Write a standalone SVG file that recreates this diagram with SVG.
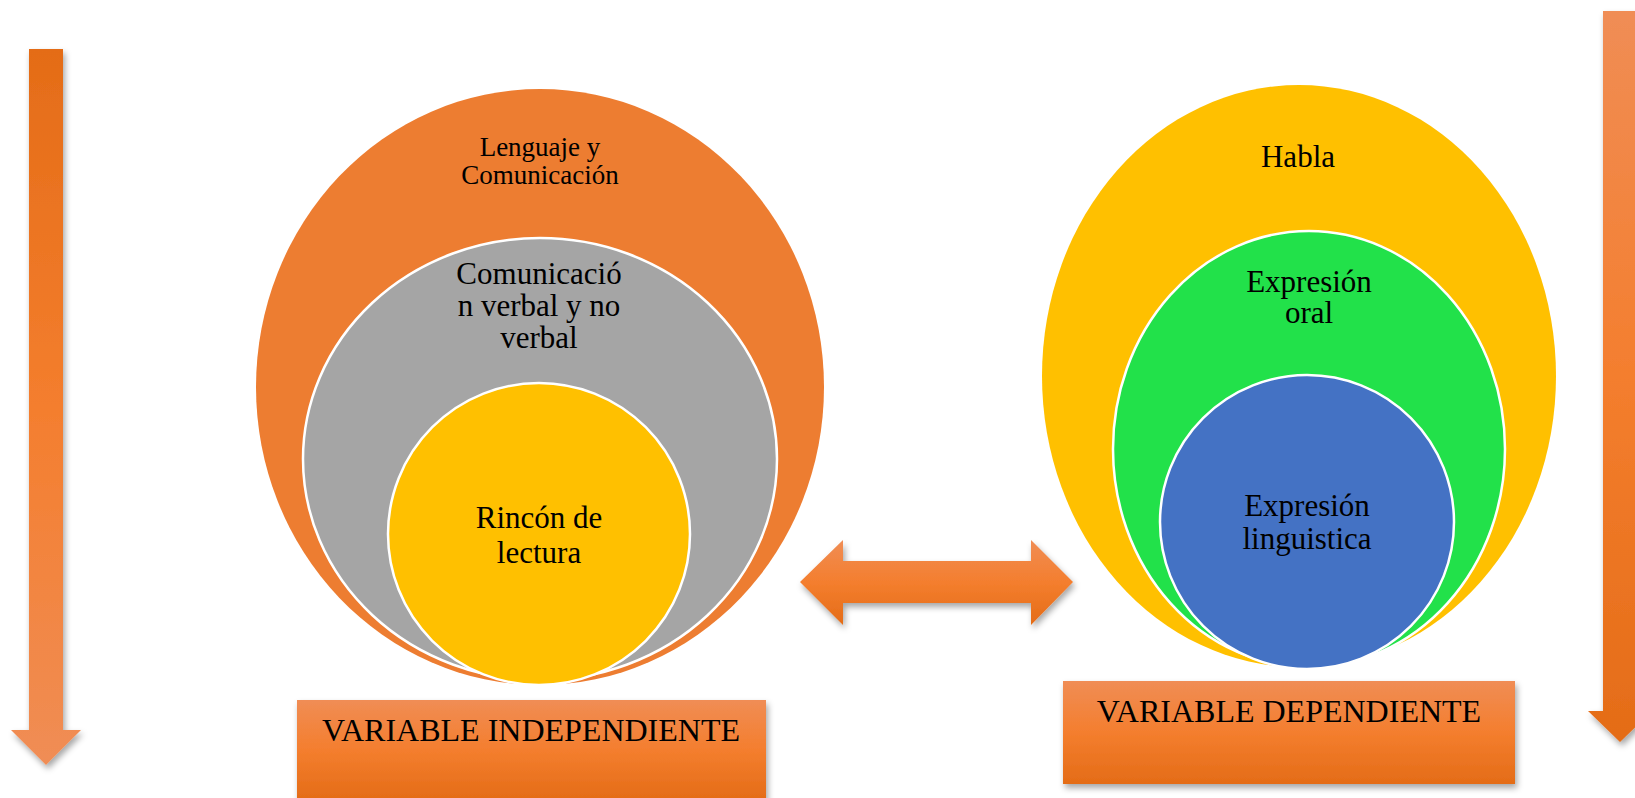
<svg xmlns="http://www.w3.org/2000/svg" width="1635" height="798" viewBox="0 0 1635 798">
<defs>
<linearGradient id="gDown" x1="0" y1="0" x2="0" y2="1">
<stop offset="0" stop-color="#E46C17"/><stop offset="0.5" stop-color="#F47E2E"/><stop offset="1" stop-color="#F08D55"/>
</linearGradient>
<linearGradient id="gUp" x1="0" y1="0" x2="0" y2="1">
<stop offset="0" stop-color="#F08D55"/><stop offset="0.5" stop-color="#F47E2E"/><stop offset="1" stop-color="#E46C17"/>
</linearGradient>
<filter id="sh" x="-20%" y="-20%" width="150%" height="150%">
<feDropShadow dx="2" dy="4" stdDeviation="3" flood-color="#000" flood-opacity="0.35"/>
</filter>
</defs>
<style>
text{font-family:"Liberation Serif","Times New Roman",serif;fill:#000;text-anchor:middle}
.t27{font-size:27px}.t31{font-size:31px}.t32{font-size:32px}
.in{stroke:#fff;stroke-width:2.5}
</style>
<rect width="1635" height="798" fill="#fff"/>

<g id="arrow-left" filter="url(#sh)">
<polygon points="29,49 63,49 63,730 81,730 46,765 11,730 29,730" fill="url(#gDown)"/>
</g>
<g id="arrow-right" filter="url(#sh)">
<polygon points="1603,11 1640,11 1640,711 1652,711 1620,742 1588,711 1603,711" fill="url(#gUp)"/>
</g>

<g id="independiente">
<g id="lenguaje">
<ellipse cx="540" cy="387" rx="284" ry="298" fill="#ED7D31"/>
<text class="t27" x="540" y="156">Lenguaje y</text>
<text class="t27" x="540" y="184">Comunicación</text>
</g>
<g id="comunicacion">
<ellipse class="in" cx="540" cy="459" rx="237" ry="221" fill="#A5A5A5"/>
<text class="t31" x="539" y="284">Comunicació</text>
<text class="t31" x="539" y="316">n verbal y no</text>
<text class="t31" x="539" y="348">verbal</text>
</g>
<g id="rincon">
<circle class="in" cx="539" cy="534" r="151" fill="#FFC000"/>
<text class="t31" x="539" y="528">Rincón de</text>
<text class="t31" x="539" y="563">lectura</text>
</g>
</g>

<g id="dependiente">
<g id="habla">
<ellipse cx="1299" cy="376" rx="257" ry="291" fill="#FFC000"/>
<text class="t31" x="1298" y="167">Habla</text>
</g>
<g id="expresion-oral">
<ellipse class="in" cx="1309" cy="449" rx="196" ry="218" fill="#22E14A"/>
<text class="t31" x="1309" y="292">Expresión</text>
<text class="t31" x="1309" y="323">oral</text>
</g>
<g id="expresion-linguistica">
<circle class="in" cx="1307" cy="522" r="147" fill="#4472C4"/>
<text class="t31" x="1307" y="516">Expresión</text>
<text class="t31" x="1307" y="549">linguistica</text>
</g>
</g>

<g id="connectors">
<polygon filter="url(#sh)" points="800,582 843,540 843,561 1031,561 1031,540 1073,582 1031,625 1031,603 843,603 843,625" fill="url(#gUp)"/>
</g>

<g id="box-independiente">
<rect x="297" y="700" width="469" height="100" fill="url(#gUp)" filter="url(#sh)"/>
<text class="t32" x="531" y="741">VARIABLE INDEPENDIENTE</text>
</g>
<g id="box-dependiente">
<rect x="1063" y="681" width="452" height="103" fill="url(#gUp)" filter="url(#sh)"/>
<text class="t32" x="1289" y="722">VARIABLE DEPENDIENTE</text>
</g>
</svg>
